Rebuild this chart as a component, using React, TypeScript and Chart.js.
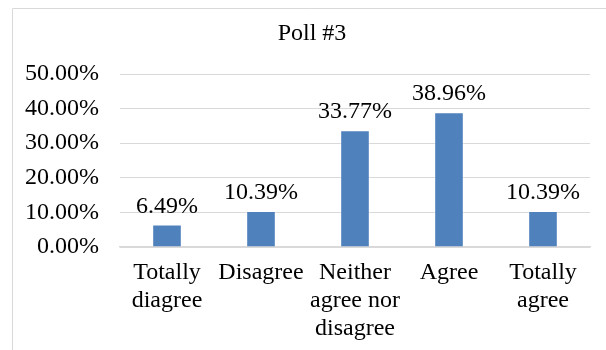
import React, { useEffect, useRef } from "react";
import { Chart, registerables } from "chart.js";

Chart.register(...registerables);

const title = "Poll #3";
const categories: string[][] = [
  ["Totally", "diagree"],
  ["Disagree"],
  ["Neither", "agree nor", "disagree"],
  ["Agree"],
  ["Totally", "agree"],
];
const values: number[] = [6.49, 10.39, 33.77, 38.96, 10.39];
const yMin = 0;
const yMax = 50;
const yStep = 10;

const FONT = "'Liberation Serif', 'Times New Roman', serif";

const frameAndLabels = {
  id: "frameAndLabels",
  beforeDraw(chart: any) {
    const ctx = chart.ctx;
    ctx.save();
    ctx.strokeStyle = "#d9d9d9";
    ctx.lineWidth = 1;
    ctx.beginPath();
    ctx.moveTo(12.5, chart.height);
    ctx.lineTo(12.5, 8.5);
    ctx.lineTo(chart.width, 8.5);
    ctx.stroke();
    ctx.font = `24px ${FONT}`;
    ctx.fillStyle = "#000000";
    ctx.textAlign = "center";
    ctx.textBaseline = "middle";
    ctx.fillText(title, chart.width / 2 + 9, 33.5);
    ctx.restore();
  },
  afterDatasetsDraw(chart: any) {
    const ctx = chart.ctx;
    const meta = chart.getDatasetMeta(0);
    const data = chart.data.datasets[0].data as number[];
    ctx.save();
    ctx.font = `24px ${FONT}`;
    ctx.fillStyle = "#000000";
    ctx.textAlign = "center";
    ctx.textBaseline = "alphabetic";
    meta.data.forEach((bar: any, i: number) => {
      ctx.fillText(data[i].toFixed(2) + "%", bar.x, bar.y - 12);
    });
    ctx.restore();
  },
};

export default function App() {
  const ref = useRef<HTMLCanvasElement | null>(null);

  useEffect(() => {
    document.body.style.margin = "0";
    if (!ref.current) return;
    const chart = new Chart(ref.current, {
      type: "bar",
      data: {
        labels: categories,
        datasets: [
          {
            data: values,
            backgroundColor: "#4f81bd",
            borderColor: "rgba(255,255,255,0.35)",
            borderWidth: 1,
            barPercentage: 0.315,
            categoryPercentage: 1,
          },
        ],
      },
      options: {
        animation: false,
        responsive: false,
        maintainAspectRatio: false,
        layout: { padding: { top: 74, left: 12, right: 16, bottom: 0 } },
        plugins: {
          legend: { display: false },
          tooltip: { enabled: false },
          title: { display: false },
        },
        scales: {
          x: {
            grid: { display: false, drawTicks: false },
            border: { display: true, color: "#d9d9d9", width: 1.5 },
            ticks: {
              color: "#000000",
              font: { family: FONT, size: 24, lineHeight: 1.17 },
              padding: 12,
              maxRotation: 0,
              minRotation: 0,
              autoSkip: false,
            },
            afterFit: (s: any) => {
              s.height = 103;
            },
          },
          y: {
            min: yMin,
            max: yMax,
            grid: { color: "#d9d9d9", lineWidth: 1, drawTicks: false },
            border: { display: false },
            ticks: {
              stepSize: yStep,
              color: "#000000",
              font: { family: FONT, size: 24 },
              padding: 21,
              callback: (v: any) => Number(v).toFixed(2) + "%",
            },
            afterFit: (s: any) => {
              s.width = 108;
            },
          },
        },
      },
      plugins: [frameAndLabels],
    });
    return () => chart.destroy();
  }, []);

  return (
    <div style={{ position: "fixed", left: 0, top: 0, width: 606, height: 350, background: "#ffffff" }}>
      <canvas ref={ref} width={606} height={350} style={{ width: 606, height: 350, display: "block" }} />
    </div>
  );
}
